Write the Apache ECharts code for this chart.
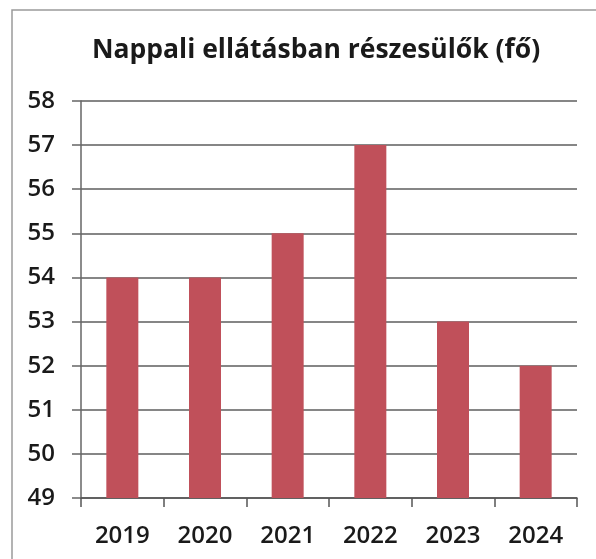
<!DOCTYPE html>
<html>
<head>
<meta charset="utf-8">
<script src="https://cdn.jsdelivr.net/npm/echarts@6/dist/echarts.min.js"></script>
<style>
  html, body { margin: 0; padding: 0; background: #fff; }
  #chart { width: 596px; height: 559px; }
</style>
</head>
<body>
<div id="chart"></div>
<script>
// Data
const years = ['2019', '2020', '2021', '2022', '2023', '2024'];
const participants = [54, 54, 55, 57, 53, 52];
const yMin = 49;
const yMax = 58;
const yStep = 1;

const FONT = '"Open Sans", Lato, sans-serif';
const chart = echarts.init(document.getElementById('chart'), null, { renderer: 'canvas' });

chart.setOption({
  backgroundColor: '#ffffff',
  animation: false,
  title: {
    text: 'Nappali ellátásban részesülők (fő)',
    left: 87,
    top: 32,
    textStyle: { fontFamily: FONT, fontSize: 26.5, fontWeight: 'bold', color: '#1a1a1a' }
  },
  graphic: [
    {
      // chart frame: top and left edges
      type: 'polyline',
      shape: { points: [[12, 600], [12, 10], [620, 10]] },
      style: { stroke: '#9a9a9a', lineWidth: 1.5, fill: null },
      silent: true
    }
  ],
  grid: { left: 81, right: 19, top: 101, bottom: 61, containLabel: false },
  xAxis: {
    type: 'category',
    data: years,
    axisLine: { show: true, lineStyle: { color: '#555', width: 1.5 } },
    axisTick: { show: true, length: 9, alignWithLabel: false, lineStyle: { color: '#555', width: 1.5 } },
    axisLabel: { margin: 26, fontFamily: FONT, fontSize: 24, fontWeight: 600, color: '#1a1a1a' },
    splitLine: { show: false }
  },
  yAxis: {
    type: 'value',
    min: yMin,
    max: yMax,
    interval: yStep,
    axisLine: { show: true, lineStyle: { color: '#666', width: 1.5 } },
    axisTick: { show: true, inside: false, length: 9, lineStyle: { color: '#666', width: 1.5 } },
    axisLabel: { margin: 26, fontFamily: FONT, fontSize: 24, fontWeight: 600, color: '#1a1a1a' },
    splitLine: { show: true, lineStyle: { color: '#5e5e5e', width: 1.5 } }
  },
  series: [
    {
      type: 'bar',
      data: participants,
      barWidth: 32,
      itemStyle: { color: '#c0505a' }
    }
  ]
});
</script>
</body>
</html>
